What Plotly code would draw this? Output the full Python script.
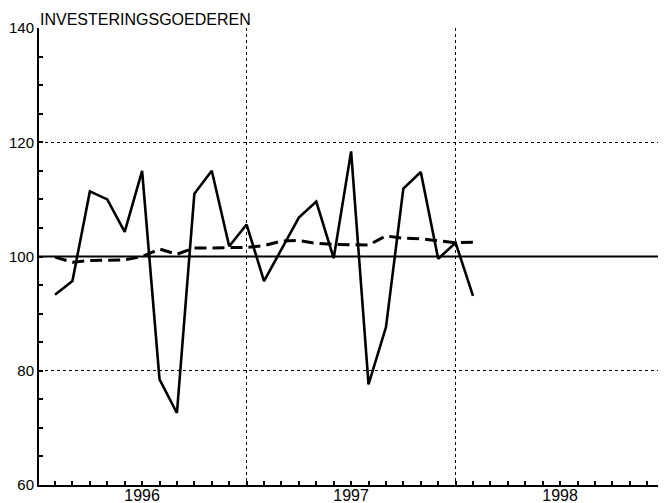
import plotly.graph_objects as go

# ---- data ----
title_text = "INVESTERINGSGOEDEREN"
month_index = list(range(25))  # Jan 1996 .. Jan 1998
solid_values = [93.3, 95.7, 111.4, 110.0, 104.3, 115.0, 78.5, 72.6, 111.0, 115.0, 101.8, 105.6,
                95.7, 101.2, 106.8, 109.6, 99.7, 118.4, 77.6, 87.6, 111.9, 114.8, 99.6, 102.4, 93.1]
dashed_values = [99.9, 99.0, 99.3, 99.3, 99.4, 100.0, 101.3, 100.4, 101.5, 101.5, 101.6, 101.6,
                 101.9, 102.7, 102.8, 102.3, 102.1, 102.0, 102.0, 103.6, 103.2, 103.1, 102.7, 102.4, 102.5]
base_value = 100
year_labels = ["1996", "1997", "1998"]
year_label_pos = [5, 17, 29]
year_boundaries = [11, 23]
month_ticks = list(range(-1, 36))
y_ticks = [60, 80, 100, 120, 140]

tick_text = []
for m in month_ticks:
    if m in year_label_pos:
        tick_text.append(year_labels[year_label_pos.index(m)])
    else:
        tick_text.append("")

fig = go.Figure()
fig.add_trace(go.Scatter(x=month_index, y=dashed_values, mode="lines",
                         line=dict(color="black", width=3, dash="12px,6px"),
                         showlegend=False, hoverinfo="skip"))
fig.add_trace(go.Scatter(x=month_index, y=solid_values, mode="lines",
                         line=dict(color="black", width=2.6),
                         showlegend=False, hoverinfo="skip"))

fig.add_shape(type="line", xref="paper", x0=0, x1=1, yref="y", y0=base_value, y1=base_value,
              line=dict(color="black", width=2), layer="above")

font = dict(family="Liberation Sans, Arial, sans-serif", size=16, color="black")

# the page body adds an 8px offset; margins compensate for it
fig.update_layout(
    width=666, height=503,
    margin=dict(l=31, r=8, t=20, b=26, autoexpand=False),
    paper_bgcolor="white", plot_bgcolor="white",
    font=font,
    annotations=[dict(text=title_text, xref="paper", yref="paper", x=0, y=1,
                      xanchor="left", yanchor="bottom", showarrow=False,
                      font=dict(family="Liberation Sans, Arial, sans-serif", size=16, color="black"),
                      xshift=-1, yshift=-2)],
)
fig.update_xaxes(
    range=[-0.92, 35.08], automargin=False,
    tickmode="array", tickvals=month_ticks, ticktext=tick_text,
    ticks="inside", ticklen=4, tickwidth=1.5, tickcolor="black",
    showgrid=False, zeroline=False,
    showline=True, linecolor="black", linewidth=2,
    minor=dict(tickmode="array", tickvals=year_boundaries, showgrid=True,
               gridcolor="black", griddash="dot", gridwidth=1, ticks=""),
    tickfont=dict(size=16),
    ticklabelstandoff=-5,
)
fig.update_yaxes(
    range=[60, 140], automargin=False,
    tickmode="array", tickvals=y_ticks,
    ticks="inside", ticklen=4, tickwidth=1.5, tickcolor="black",
    showgrid=True, gridcolor="black", griddash="dot", gridwidth=1,
    zeroline=False,
    showline=True, linecolor="black", linewidth=2,
    minor=dict(dtick=5, tick0=60, ticks="inside", ticklen=4, tickcolor="black", showgrid=False),
    tickfont=dict(size=15),
    ticklabelstandoff=0,
)

fig.write_html("out.html")
